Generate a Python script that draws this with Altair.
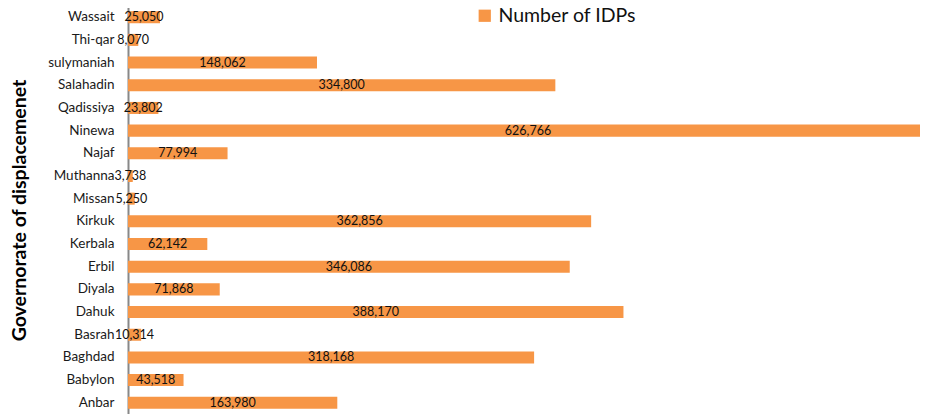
import altair as alt
import pandas as pd

governorates = ["Wassait", "Thi-qar", "sulymaniah", "Salahadin", "Qadissiya", "Ninewa",
                "Najaf", "Muthanna", "Missan", "Kirkuk", "Kerbala", "Erbil", "Diyala",
                "Dahuk", "Basrah", "Baghdad", "Babylon", "Anbar"]
idps = [25050, 8070, 148062, 334800, 23802, 626766, 77994, 3738, 5250, 362856,
        62142, 346086, 71868, 388170, 10314, 318168, 43518, 163980]
series_name = "Number of IDPs"

df = pd.DataFrame({"gov": governorates, "idps": idps})
df["series"] = series_name
df["mid"] = df["idps"] / 2
df["label"] = df["idps"].map(lambda v: f"{v:,}")

FONT = "Lato"

y_enc = alt.Y("gov:N", sort=governorates,
              scale=alt.Scale(paddingInner=0.47, paddingOuter=0.23),
              axis=alt.Axis(title="Governorate of displacemenet", titleFont=FONT,
                            titleFontSize=19.5, titleFontWeight="bold", titleColor="#000",
                            titleX=-109, titleBaseline="middle",
                            labelFont=FONT, labelFontSize=13.5, labelColor="#1a1a1a",
                            labelPadding=14, ticks=False, domainColor="#888",
                            domainWidth=2, grid=False))

x_scale = alt.Scale(domain=[0, 626766], nice=False, zero=True)

bars = alt.Chart(df).mark_bar().encode(
    y=y_enc,
    x=alt.X("idps:Q", scale=x_scale, axis=None),
    color=alt.Color("series:N", scale=alt.Scale(range=["#F79646"]),
                    legend=alt.Legend(title=None, orient="none", legendX=347, legendY=0,
                                      symbolType="square", symbolSize=150,
                                      symbolStrokeWidth=0,
                                      labelFont=FONT, labelFontSize=19.5,
                                      labelColor="#111", labelLimit=300))
)

labels = alt.Chart(df).mark_text(font=FONT, fontSize=12.5, color="#111",
                                 baseline="middle", align="center").encode(
    y=alt.Y("gov:N", sort=governorates),
    x=alt.X("mid:Q", scale=x_scale),
    text="label:N"
)

chart = (bars + labels).properties(
    width=800, height=408,
    autosize=alt.AutoSizeParams(type="none"),
    padding={"left": 120, "top": -2, "right": -8, "bottom": 0}
).configure_view(stroke=None)

chart.save("out.html", embed_options={"renderer": "svg", "actions": False})
